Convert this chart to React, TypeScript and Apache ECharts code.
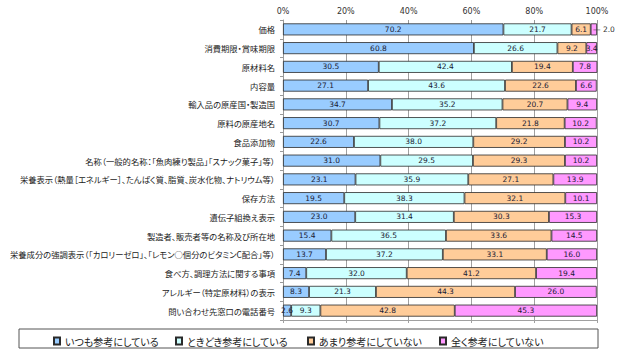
import React, { useEffect, useRef } from "react";
import * as echarts from "echarts";

const categories = [
  "価格",
  "消費期限・賞味期限",
  "原材料名",
  "内容量",
  "輸入品の原産国・製造国",
  "原料の原産地名",
  "食品添加物",
  "名称（一般的名称：「魚肉練り製品」「スナック菓子」等）",
  "栄養表示（熱量［エネルギー］、たんぱく質、脂質、炭水化物、ナトリウム等）",
  "保存方法",
  "遺伝子組換え表示",
  "製造者、販売者等の名称及び所在地",
  "栄養成分の強調表示（「カロリーゼロ」、「レモン○個分のビタミンC配合」等）",
  "食べ方、調理方法に関する事項",
  "アレルギー（特定原材料）の表示",
  "問い合わせ先窓口の電話番号",
];

const always = [70.2, 60.8, 30.5, 27.1, 34.7, 30.7, 22.6, 31.0, 23.1, 19.5, 23.0, 15.4, 13.7, 7.4, 8.3, 2.6];
const sometimes = [21.7, 26.6, 42.4, 43.6, 35.2, 37.2, 38.0, 29.5, 35.9, 38.3, 31.4, 36.5, 37.2, 32.0, 21.3, 9.3];
const rarely = [6.1, 9.2, 19.4, 22.6, 20.7, 21.8, 29.2, 29.3, 27.1, 32.1, 30.3, 33.6, 33.1, 41.2, 44.3, 42.8];
const never = [2.0, 3.4, 7.8, 6.6, 9.4, 10.2, 10.2, 10.2, 13.9, 10.1, 15.3, 14.5, 16.0, 19.4, 26.0, 45.3];

const seriesNames = ["いつも参考にしている", "ときどき参考にしている", "あまり参考にしていない", "全く参考にしていない"];
const seriesColors = ["#99CCFF", "#CCFFFF", "#FFCC99", "#FF99FF"];

export default function App() {
  const ref = useRef<HTMLDivElement>(null);

  useEffect(() => {
    if (!ref.current) return;
    const chart = echarts.init(ref.current, null, { renderer: "svg" });
    const valueLists = [always, sometimes, rarely, never];
    const labelStyle = {
      show: true,
      position: "inside",
      fontFamily: "DejaVu Sans",
      fontSize: 7.5,
      color: "#1a1a33",
      formatter: (p: any) => Number(p.value).toFixed(1),
    };
    const series = valueLists.map((vals, si) => ({
      name: seriesNames[si],
      type: "bar",
      stack: "total",
      barWidth: 12,
      itemStyle: { color: seriesColors[si], borderColor: "#2a2a2a", borderWidth: 0.8 },
      label: labelStyle,
      data: vals.map((v, i) =>
        si === 3 && i === 0
          ? {
              value: v,
              label: {
                position: "right",
                distance: -4,
                formatter: (p: any) => "— " + Number(p.value).toFixed(1),
                color: "#333",
              },
            }
          : v
      ),
    }));

    chart.setOption({
      animation: false,
      textStyle: { fontFamily: "Noto Sans CJK JP" },
      grid: { left: 283, right: 23, top: 20, bottom: 39, containLabel: false, outerBoundsMode: "none" },
      graphic: [
        {
          type: "rect",
          shape: { x: 19, y: 329, width: 579, height: 19 },
          style: { fill: "#fff", stroke: "#555", lineWidth: 1 },
          z: -1,
        },
      ],
      legend: {
        left: 48,
        top: 331,
        itemWidth: 6,
        itemHeight: 7,
        itemGap: 10,
        icon: "rect",
        textStyle: { fontSize: 10, color: "#222", width: 118, fontFamily: "Noto Sans CJK JP" },
        data: seriesNames,
      },
      xAxis: [
        {
          type: "value",
          position: "top",
          min: 0,
          max: 100,
          interval: 20,
          axisLabel: { formatter: "{value}%", fontSize: 8, color: "#333", fontFamily: "DejaVu Sans", margin: 5 },
          axisLine: { show: false },
          axisTick: { show: true, length: 3, inside: true, lineStyle: { color: "#999" } },
          splitLine: { show: true, lineStyle: { color: "#a0a0a0", width: 1 } },
        },
        {
          type: "value",
          position: "bottom",
          min: 0,
          max: 100,
          interval: 20,
          axisLabel: { show: false },
          axisLine: { show: true, lineStyle: { color: "#a0a0a0" } },
          axisTick: { show: true, length: 3, lineStyle: { color: "#a0a0a0" } },
          splitLine: { show: false },
        },
      ],
      yAxis: {
        type: "category",
        inverse: true,
        data: categories,
        axisLine: { show: true, lineStyle: { color: "#999" } },
        axisTick: { show: true, length: 3, lineStyle: { color: "#999" } },
        axisLabel: { fontSize: 8.3, color: "#222", margin: 8, fontFamily: "Noto Sans CJK JP" },
      },
      series,
    });
    return () => chart.dispose();
  }, []);

  return (
    <>
      <style>{`body{margin:0} #root text{font-feature-settings:"palt" 1;}`}</style>
      <div ref={ref} style={{ position: "absolute", left: 0, top: 0, width: 620, height: 359 }} />
    </>
  );
}
